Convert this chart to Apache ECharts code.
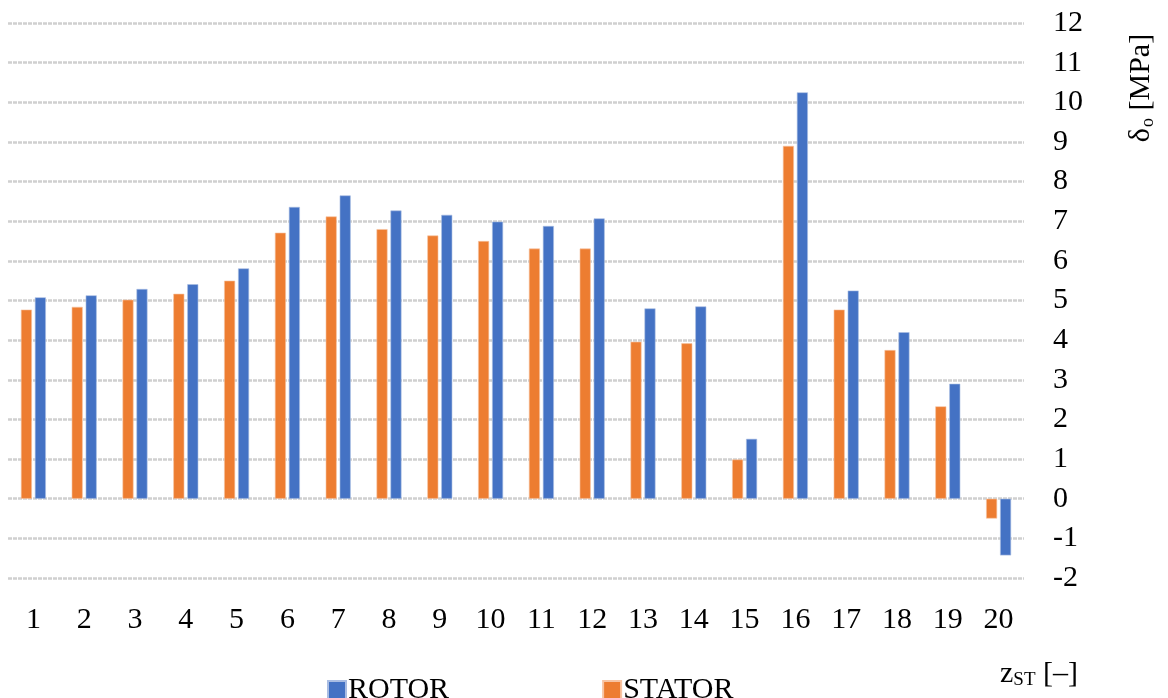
<!DOCTYPE html>
<html>
<head>
<meta charset="utf-8">
<script src="https://cdn.jsdelivr.net/npm/echarts@6/dist/echarts.min.js"></script>
<style>
html,body{margin:0;padding:0;background:#fff;}
#chart{width:1168px;height:698px;}
</style>
</head>
<body>
<div id="chart"></div>
<script>
const categories = ['1','2','3','4','5','6','7','8','9','10','11','12','13','14','15','16','17','18','19','20'];
const statorValues = [4.77, 4.84, 5.02, 5.17, 5.50, 6.71, 7.12, 6.80, 6.64, 6.50, 6.31, 6.31, 3.96, 3.92, 0.99, 8.90, 4.77, 3.75, 2.33, -0.50];
const rotorValues = [5.08, 5.13, 5.29, 5.41, 5.81, 7.36, 7.65, 7.27, 7.16, 6.99, 6.88, 7.07, 4.80, 4.85, 1.51, 10.25, 5.25, 4.20, 2.90, -1.43];
const yMin = -2, yMax = 12, yStep = 1;
const legendOrder = ['ROTOR', 'STATOR'];

const FONT = '"Liberation Serif", "Times New Roman", serif';
const chart = echarts.init(document.getElementById('chart'), null, {renderer: 'canvas'});
chart.setOption({
  animation: false,
  backgroundColor: '#ffffff',
  textStyle: {fontFamily: FONT, color: '#000'},
  grid: {left: 8, right: 144, top: 23, bottom: 120, containLabel: false},
  legend: {
    data: legendOrder,
    left: 322, top: 670,
    itemWidth: 18, itemHeight: 18, itemGap: 153,
    icon: 'rect',
    textStyle: {fontFamily: FONT, fontSize: 30, color: '#000', padding: [0,0,0,-3]}
  },
  xAxis: {
    type: 'category',
    data: categories,
    axisLine: {show: false},
    axisTick: {show: false},
    axisLabel: {fontFamily: FONT, fontSize: 30, color: '#000', margin: 27},
    splitLine: {show: false}
  },
  yAxis: {
    type: 'value',
    position: 'right',
    min: yMin, max: yMax, interval: yStep,
    axisLine: {show: false},
    axisTick: {show: false},
    axisLabel: {fontFamily: FONT, fontSize: 30, color: '#000', margin: 29, align: 'left'},
    splitLine: {show: true, lineStyle: {color: '#d0d0d0', width: 2.5, type: [4, 1]}}
  },
  series: [
    {
      name: 'STATOR', type: 'bar', data: statorValues,
      barWidth: 11, barGap: '27%',
      itemStyle: {color: '#ED7D31', borderColor: '#f7c4a3', borderWidth: 0.6}
    },
    {
      name: 'ROTOR', type: 'bar', data: rotorValues,
      barWidth: 11, barGap: '27%',
      itemStyle: {color: '#4472C4', borderColor: '#a9bde3', borderWidth: 0.6}
    }
  ],
  graphic: [
    {
      type: 'text', x: 1141, y: 88, rotation: Math.PI / 2,
      style: {
        text: '{m|δ}{s|o}{m| [MPa]}',
        align: 'center', verticalAlign: 'middle',
        rich: {
          m: {fontFamily: FONT, fontSize: 30, color: '#000'},
          s: {fontFamily: FONT, fontSize: 18, color: '#000', padding: [14, 0, 0, 1]}
        }
      }
    },
    {
      type: 'text', x: 1000, y: 674,
      style: {
        text: '{m|z}{s|ST}{m| [–]}',
        align: 'left', verticalAlign: 'middle',
        rich: {
          m: {fontFamily: FONT, fontSize: 30, color: '#000'},
          s: {fontFamily: FONT, fontSize: 19, color: '#000', padding: [12, 0, 0, 0]}
        }
      }
    }
  ]
});
</script>
</body>
</html>
